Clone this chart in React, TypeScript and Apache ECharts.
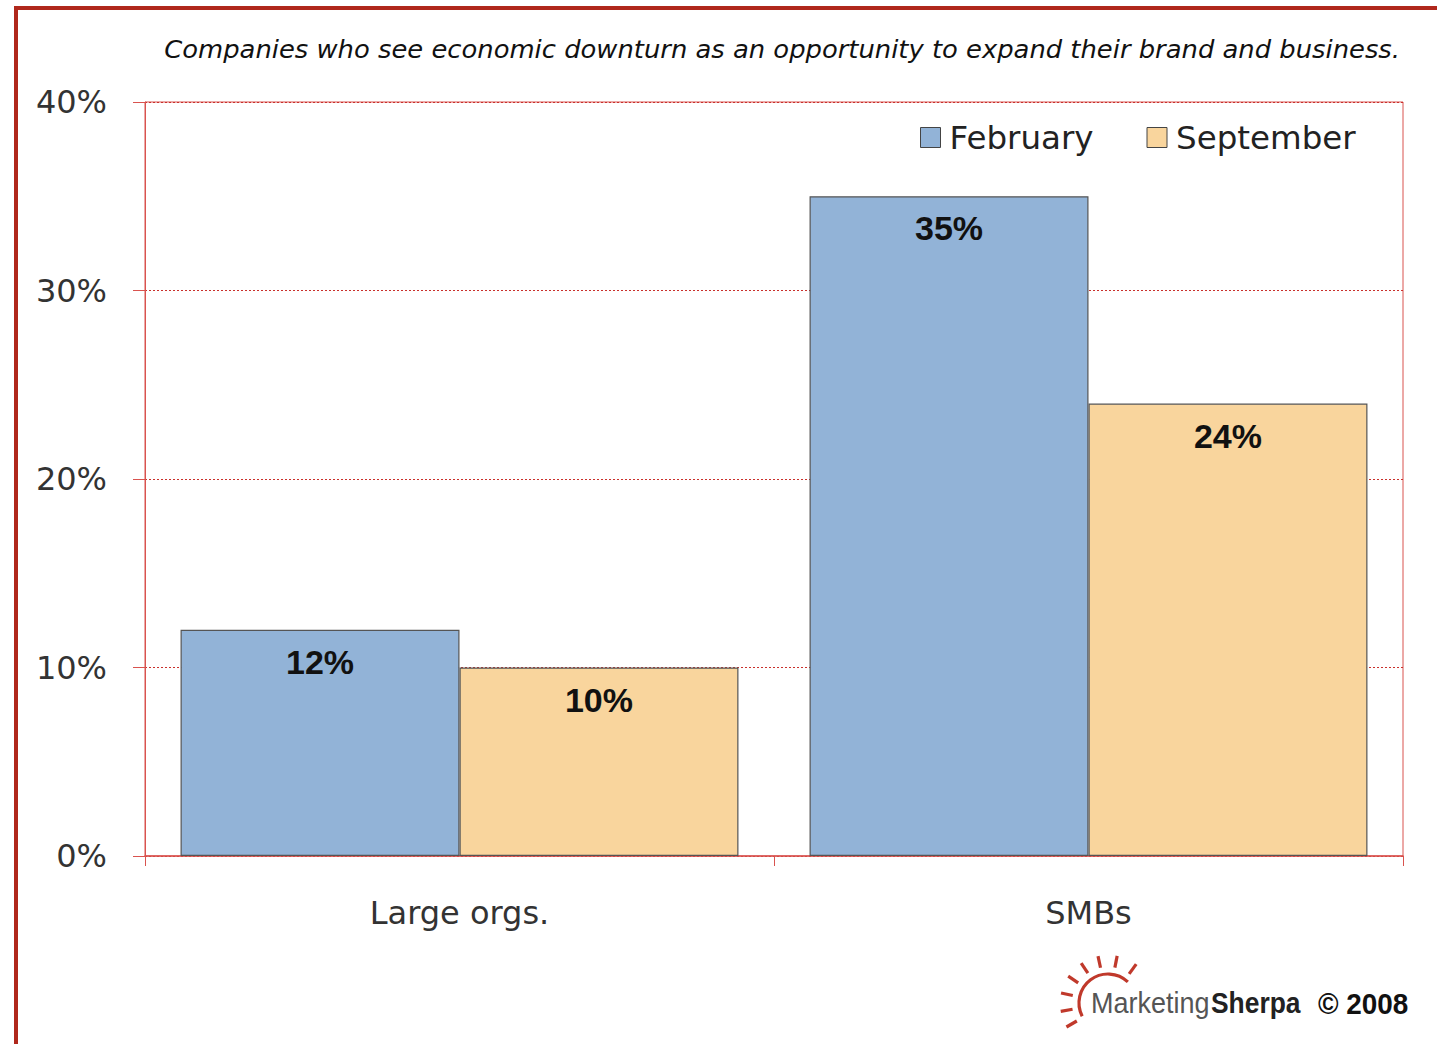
import React, { useEffect, useRef } from "react";
import * as echarts from "echarts";

const categories = ["Large orgs.", "SMBs"];
const february = [12, 35];
const september = [10, 24];
const yTicks = [0, 10, 20, 30, 40];
const title = "Companies who see economic downturn as an opportunity to expand their brand and business.";

const sunRayAnglesDeg = [150, 170, 192, 214, 236, 258, 281, 306];

export default function App() {
  const ref = useRef<HTMLDivElement>(null);
  useEffect(() => {
    if (!ref.current) return;
    const chart = echarts.init(ref.current, null, { renderer: "svg" });
    const cx = 1108, cy = 1003;
    const rays = sunRayAnglesDeg.map((d) => {
      const ang = (d * Math.PI) / 180;
      return {
        type: "line",
        shape: {
          x1: cx + Math.cos(ang) * 36,
          y1: cy + Math.sin(ang) * 36,
          x2: cx + Math.cos(ang) * 48,
          y2: cy + Math.sin(ang) * 48,
        },
        style: { stroke: "#c0392b", lineWidth: 3.2 },
      };
    });
    const labelStyle = {
      show: true,
      position: "insideTop",
      distance: 15,
      formatter: "{c}%",
      fontSize: 34,
      fontWeight: "bold",
      color: "#111",
      fontFamily: "Liberation Sans",
    };
    chart.setOption({
      animation: false,
      backgroundColor: "#ffffff",
      textStyle: { fontFamily: "DejaVu Sans" },
      grid: {
        left: 145,
        right: 34,
        top: 102,
        bottom: 188,
        show: true,
        borderColor: "#d9534f",
        borderWidth: 1,
        containLabel: false,
      },
      legend: {
        left: 915,
        top: 116,
        icon: "rect",
        itemWidth: 20,
        itemHeight: 20,
        itemGap: 53,
        textStyle: { fontSize: 32.5, color: "#222", fontFamily: "DejaVu Sans", padding: [0, 0, 0, 4] },
        itemStyle: { borderColor: "#444", borderWidth: 1 },
        data: ["February", "September"],
      },
      xAxis: {
        type: "category",
        data: categories,
        axisLine: { lineStyle: { color: "#d9534f", width: 1.5 } },
        axisTick: { show: true, length: 10, lineStyle: { color: "#d9534f" } },
        axisLabel: { fontSize: 32, color: "#333", margin: 41, fontFamily: "DejaVu Sans" },
      },
      yAxis: {
        type: "value",
        min: 0,
        max: 40,
        interval: 10,
        axisLine: { show: true, lineStyle: { color: "#d9534f", width: 1 } },
        axisTick: { show: true, length: 12, lineStyle: { color: "#d9534f" } },
        axisLabel: {
          fontSize: 32,
          color: "#333",
          margin: 38,
          fontFamily: "DejaVu Sans",
          formatter: (v: number) => (yTicks.includes(v) ? v + "%" : ""),
        },
        splitLine: { show: true, lineStyle: { color: "#c9302c", type: [2, 2], width: 1 } },
      },
      series: [
        {
          name: "February",
          type: "bar",
          data: february,
          barGap: "0%",
          barCategoryGap: "11.3%",
          itemStyle: { color: "#92b3d7", borderColor: "#555", borderWidth: 1.2 },
          label: labelStyle,
        },
        {
          name: "September",
          type: "bar",
          data: september,
          itemStyle: { color: "#f9d59d", borderColor: "#555", borderWidth: 1.2 },
          label: labelStyle,
        },
      ],
      graphic: [
        {
          type: "rect",
          shape: { x: 16, y: 8, width: 1500, height: 1100 },
          style: { fill: "none", stroke: "#b0281c", lineWidth: 4 },
          silent: true,
        },
        {
          type: "text",
          x: 1400,
          y: 49,
          scaleX: 1.033,
          style: {
            text: title,
            fontSize: 25,
            fontStyle: "italic",
            fontFamily: "DejaVu Sans",
            fill: "#111",
            align: "right",
            verticalAlign: "middle",
          },
        },
        {
          type: "arc",
          shape: { cx, cy, r: 29, startAngle: 0.85 * Math.PI, endAngle: 1.74 * Math.PI, clockwise: true },
          style: { stroke: "#c0392b", lineWidth: 3.2, fill: "none" },
        },
        ...rays,
        {
          type: "text",
          x: 1091,
          y: 1002,
          scaleX: 0.9,
          style: {
            text: "Marketing",
            fontSize: 30,
            fontFamily: "Liberation Sans",
            fill: "#555",
            verticalAlign: "middle",
          },
        },
        {
          type: "text",
          x: 1211,
          y: 1002,
          scaleX: 0.88,
          style: {
            text: "Sherpa",
            fontSize: 30,
            fontWeight: "bold",
            fontFamily: "Liberation Sans",
            fill: "#222",
            verticalAlign: "middle",
          },
        },
        {
          type: "text",
          x: 1318,
          y: 1004,
          scaleX: 0.93,
          style: {
            text: "© 2008",
            fontSize: 30,
            fontWeight: "bold",
            fontFamily: "Liberation Sans",
            fill: "#111",
            verticalAlign: "middle",
          },
        },
      ],
    });
    return () => chart.dispose();
  }, []);
  return (
    <div
      ref={ref}
      style={{ position: "fixed", left: 0, top: 0, width: 1437, height: 1044 }}
    />
  );
}
